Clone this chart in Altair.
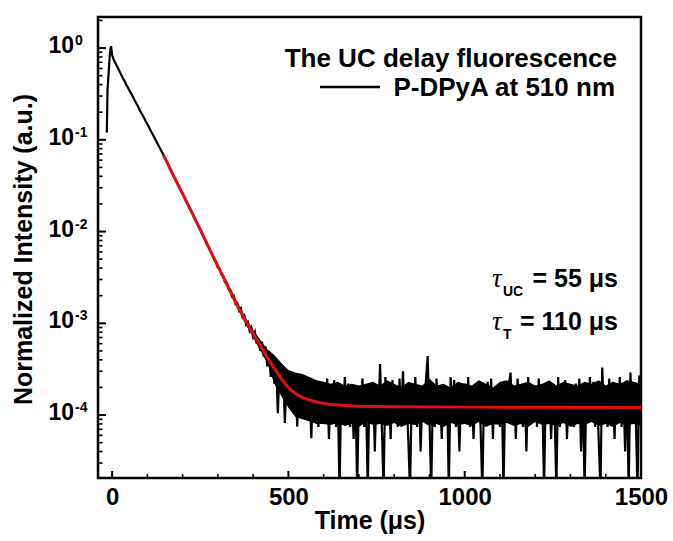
import altair as alt
import pandas as pd

# ---------------- data ----------------
# rising edge of the pulse (time in µs, normalized intensity)
rise_t = [-15, -13, -6, -3]
rise_v = [0.12, 0.35, 0.9, 1.05]

# clean decay, 5 µs grid from t = 0 to t = 250 µs
decay_v = [0.84, 0.74, 0.68, 0.62, 0.57, 0.52, 0.475, 0.44, 0.40, 0.37,
           0.34, 0.315, 0.29, 0.265, 0.245, 0.225, 0.205, 0.19, 0.175, 0.16,
           0.148, 0.136, 0.125, 0.115, 0.106, 0.097, 0.089, 0.082, 0.075, 0.069,
           0.063, 0.058, 0.053, 0.048, 0.044, 0.040, 0.0368, 0.0335, 0.0308, 0.028,
           0.0258, 0.0235, 0.0216, 0.0196, 0.018, 0.0165, 0.0151, 0.0137, 0.0126, 0.0115,
           0.0105]

# noisy part, 5 µs grid from t = 255 to t = 1500 µs, intensity in units of 1e-5
noisy_255_330 = [960, 850, 810, 710, 670, 590, 555, 490, 465, 405, 390, 340, 330, 280, 278, 238]
noisy_335_450 = [232, 195, 200, 162, 166, 138, 146, 116, 122, 97, 103, 83, 90, 71, 80, 60,
                 69, 50, 63, 43, 56, 34, 50, 26]
noisy_455_495 = [44, 22, 40, 10.5, 34, 18, 31, 8.2, 27]
noisy_500 = [26, 13, 28, 11, 24, 7.5, 27, 14, 22, 9.3, 24, 12, 20, 5.6, 23, 11, 21, 7.4, 19, 13]
noisy_600 = [22, 9.3, 25, 5.5, 20, 11, 24, 7.4, 18, 1.5, 21, 9.3, 26, 11, 22, 7.4, 19, 5.5, 20, 1.5]
noisy_700 = [18, 9.3, 25, 7.4, 17, 1.5, 20, 11, 22, 4, 18, 9.3, 36, 7.4, 1.5, 26, 11, 18, 5.5, 24]
noisy_800 = [9.3, 19, 7.4, 25, 11, 30, 9.3, 17, 5.5, 1.5, 20, 11, 26, 7.4, 21, 4, 17, 9.3, 24, 44]
noisy_900 = [9.3, 1.5, 19, 7.4, 25, 11, 17, 5.5, 21, 9.3, 18, 1.5, 26, 11, 24, 7.4, 17, 4, 19, 9.3]
noisy_1000 = [22, 11, 26, 7.4, 20, 5.5, 17, 11, 21, 7.4, 1.5, 19, 9.3, 23, 11, 25, 5.5, 20, 9.3, 17]
noisy_1100 = [7.4, 22, 1.5, 19, 11, 21, 29, 9.3, 18, 5.5, 25, 11, 17, 7.4, 22, 4, 26, 9.3, 18, 11]
noisy_1200 = [21, 7.4, 25, 11, 17, 1.5, 20, 9.3, 22, 5.5, 18, 11, 1.5, 26, 7.4, 19, 11, 24, 5.5, 17]
noisy_1300 = [9.3, 20, 7.4, 22, 11, 25, 4, 21, 1.5, 19, 9.3, 26, 11, 23, 7.4, 20, 5.5, 1.5, 33, 11]
noisy_1400 = [19, 7.4, 25, 9.3, 18, 5.5, 22, 11, 26, 7.4, 20, 4, 24, 1.5, 29, 9.3, 21, 11, 1.5, 27, 13]

# dense part of the noise band (lower / upper edge), 20 µs grid from t = 320 to 1500, units of 1e-5
band_lo = [275, 190, 135, 96, 70, 51, 37, 22, 16, 12,
           9.5, 9, 8.5, 8, 8, 7.8, 8.2, 7.6, 8, 7.4,
           8.4, 7.8, 8, 7.6, 8.2, 7.4, 8, 7.8, 8.4, 7.6,
           8, 7.4, 8.2, 7.8, 8, 7.6, 8.4, 7.4, 8, 7.8,
           8.2, 7.6, 8, 7.4, 8.4, 7.8, 8, 7.6, 8.2, 7.4,
           8, 7.8, 8.4, 7.6, 8, 7.4, 8.2, 7.8, 8, 7.6]
band_hi = [310, 222, 157, 113, 85, 66, 52, 45, 37, 31,
           29, 28, 26, 24, 23, 22, 23, 21, 22, 21,
           22, 23, 21, 24, 22, 20, 23, 22, 21, 25,
           21, 22, 20, 23, 22, 21, 24, 22, 20, 23,
           24, 21, 22, 23, 21, 22, 24, 21, 23, 22,
           21, 23, 22, 24, 21, 23, 22, 24, 23, 22]

# red fit curve
fit_t = [145, 150, 175, 200, 225, 250, 275, 300, 325, 350, 375, 400, 420, 430, 440,
         450, 460, 470, 480, 490, 500, 510, 520, 530, 540, 550, 560, 570, 580, 600,
         625, 650, 700, 800, 1000, 1500]
fit_v = [0.069, 0.063, 0.040, 0.0258, 0.0165, 0.0105, 0.0066, 0.0042, 0.0027, 0.0017,
         0.00112, 0.00077, 0.00058, 0.00050, 0.00043, 0.00037, 0.000322, 0.000283,
         0.000250, 0.000222, 0.000200, 0.000184, 0.000172, 0.000163, 0.000156, 0.000150,
         0.000146, 0.000142, 0.000139, 0.000134, 0.000130, 0.000128, 0.000125, 0.000123,
         0.000122, 0.000121]

# axis ticks / labels
x_major = [0, 500, 1000, 1500]
x_minor = [100, 200, 300, 400, 600, 700, 800, 900, 1100, 1200, 1300, 1400]
y_major = [1, 0.1, 0.01, 0.001, 0.0001]
y_exp = ["0", "-1", "-2", "-3", "-4"]
y_minor = [m * 10.0 ** k for k in range(-5, 1) for m in range(2, 10) if 2.06e-5 <= m * 10.0 ** k <= 2.18]

legend_title = "The UC delay fluorescence"
legend_label = "P-DPyA at 510 nm"
tau_uc_text = "= 55 μs"
tau_t_text = "= 110 μs"

# ---------------- build tables ----------------
noisy = (noisy_255_330 + noisy_335_450 + noisy_455_495 + noisy_500 + noisy_600 + noisy_700
         + noisy_800 + noisy_900 + noisy_1000 + noisy_1100 + noisy_1200 + noisy_1300 + noisy_1400)
trace_t = rise_t + list(range(0, 255, 5)) + list(range(255, 1505, 5))
trace_v = rise_v + decay_v + [v * 1e-5 for v in noisy]
trace = pd.DataFrame({"t": trace_t, "v": trace_v})
band = pd.DataFrame({"t": list(range(320, 1501, 20)),
                     "lo": [v * 1e-5 for v in band_lo],
                     "hi": [v * 1e-5 for v in band_hi]})
fit = pd.DataFrame({"t": fit_t, "v": fit_v})

W, H = 543, 461
FONT = "Liberation Sans"

xs = alt.Scale(domain=[-40, 1500], nice=False, zero=False)
ys = alt.Scale(type="log", domain=[2.06e-5, 2.18], nice=False)

x_axis = alt.Axis(values=x_major, format="d", ticks=False, domain=False, grid=False,
                  labelFont=FONT, labelFontSize=24, labelFontWeight="bold", labelColor="black",
                  labelPadding=7, labelFlush=False,
                  titleFont=FONT, titleFontSize=25, titleFontWeight="bold", titleColor="black",
                  titleY=50, titleBaseline="alphabetic")
y_axis = alt.Axis(labels=False, ticks=False, domain=False, grid=False,
                  titleFont=FONT, titleFontSize=25, titleFontWeight="bold", titleColor="black",
                  titleX=-67, titleY=232, titleAngle=270, titleBaseline="alphabetic")

band_area = alt.Chart(band).mark_area(color="black", clip=True).encode(
    x=alt.X("t:Q", scale=xs, axis=x_axis, title="Time (μs)"),
    y=alt.Y("lo:Q", scale=ys, axis=y_axis, title="Normalized Intensity (a.u.)"),
    y2="hi:Q",
)
black = alt.Chart(trace).mark_line(color="black", strokeWidth=2.2, clip=True).encode(
    x=alt.X("t:Q", scale=xs), y=alt.Y("v:Q", scale=ys)
)
red = alt.Chart(fit).mark_line(color="#e01010", strokeWidth=3, clip=True).encode(
    x=alt.X("t:Q", scale=xs), y=alt.Y("v:Q", scale=ys)
)

ymaj = pd.DataFrame({"v": y_major, "e": y_exp})
ytick_major = alt.Chart(ymaj).mark_rule(color="black", strokeWidth=2).encode(
    y=alt.Y("v:Q", scale=ys), x=alt.value(0), x2=alt.value(8))
ytick_minor = alt.Chart(pd.DataFrame({"v": y_minor})).mark_rule(color="black", strokeWidth=1.6).encode(
    y=alt.Y("v:Q", scale=ys), x=alt.value(0), x2=alt.value(4.5))
xtick_major = alt.Chart(pd.DataFrame({"t": x_major})).mark_rule(color="black", strokeWidth=2).encode(
    x=alt.X("t:Q", scale=xs), y=alt.value(H), y2=alt.value(H - 7))
xtick_minor = alt.Chart(pd.DataFrame({"t": x_minor})).mark_rule(color="black", strokeWidth=1.6).encode(
    x=alt.X("t:Q", scale=xs), y=alt.value(H), y2=alt.value(H - 4))

ylab_base = alt.Chart(ymaj).mark_text(align="right", baseline="alphabetic", font=FONT, fontSize=23,
                                      fontWeight="bold", color="black", dy=5).encode(
    y=alt.Y("v:Q", scale=ys), x=alt.value(-24), text=alt.value("10"))
ylab_exp = alt.Chart(ymaj).mark_text(align="left", baseline="alphabetic", font=FONT, fontSize=14,
                                     fontWeight="bold", color="black", dy=-3).encode(
    y=alt.Y("v:Q", scale=ys), x=alt.value(-23), text="e:N")


def label(txt, x, y, size=25, align="right", font=FONT, style="normal", weight="bold"):
    return alt.Chart(pd.DataFrame({"s": [txt]})).mark_text(
        align=align, baseline="alphabetic", font=font, fontSize=size, fontWeight=weight,
        fontStyle=style, color="black").encode(x=alt.value(x), y=alt.value(y), text="s:N")


leg1 = label(legend_title, 519, 50, size=26)
leg2 = label(legend_label, 517, 79, size=26)
leg_line = alt.Chart(pd.DataFrame({"a": [0]})).mark_rule(color="black", strokeWidth=2.5).encode(
    x=alt.value(222), x2=alt.value(282), y=alt.value(70))

tau1 = label("τ", 394, 270, size=27, align="left", font="Liberation Serif", style="italic", weight="normal")
tau1s = label("UC", 405, 279, size=14, align="left")
tau1t = label(tau_uc_text, 520, 270, size=25)
tau2 = label("τ", 394, 313, size=27, align="left", font="Liberation Serif", style="italic", weight="normal")
tau2s = label("T", 405, 322, size=14, align="left")
tau2t = label(tau_t_text, 520, 313, size=25)

chart = alt.layer(
    band_area, black, red, ytick_major, ytick_minor, xtick_major, xtick_minor, ylab_base, ylab_exp,
    leg1, leg2, leg_line, tau1, tau1s, tau1t, tau2, tau2s, tau2t,
).properties(
    width=W, height=H,
    autosize=alt.AutoSizeParams(type="none"),
    padding={"left": 98, "top": 17, "right": 32, "bottom": 63},
    background="white",
).configure_view(stroke="black", strokeWidth=2.5)

chart.save("out.html", embed_options={"renderer": "svg", "actions": False})
